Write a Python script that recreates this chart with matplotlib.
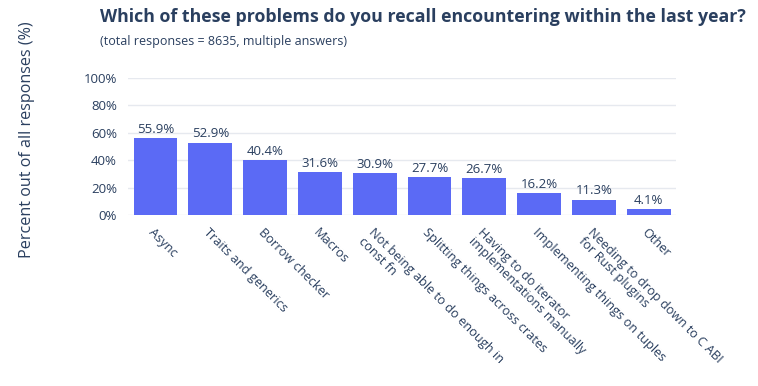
import matplotlib.pyplot as plt
import numpy as np

categories = [
    "Async",
    "Traits and generics",
    "Borrow checker",
    "Macros",
    "Not being able to do enough in\nconst fn",
    "Splitting things across crates",
    "Having to do iterator\nimplementations manually",
    "Implementing things on tuples",
    "Needing to drop down to C ABI\nfor Rust plugins",
    "Other",
]
values = [55.9, 52.9, 40.4, 31.6, 30.9, 27.7, 26.7, 16.2, 11.3, 4.1]
yticks = [0, 20, 40, 60, 80, 100]

text_color = "#2a3f5f"
bar_color = "#5b6af5"

plt.rcParams['font.family'] = ['Open Sans', 'DejaVu Sans']

fig = plt.figure(figsize=(7.58, 3.86), dpi=100)
ax = fig.add_axes([0.169, 0.443, 0.723, 0.355])

x = np.arange(len(categories))
ax.bar(x, values, width=0.8, color=bar_color, zorder=2)
for xi, v in zip(x, values):
    ax.text(xi, v + 1.5, f"{v:.1f}%", ha='center', va='bottom',
            fontsize=9.5, color=text_color)

ax.set_xlim(-0.5, len(categories) - 0.5)
ax.set_ylim(0, 100)
ax.set_yticks(yticks)
ax.set_yticklabels([f"{t}%" for t in yticks], fontsize=9.5, color=text_color)
ax.set_xticks(x)
ax.set_xticklabels(categories, rotation=-45, ha='left', va='top',
                   rotation_mode='anchor', fontsize=9.2, color=text_color,
                   linespacing=1.0)
ax.tick_params(axis='both', length=0, pad=8)
ax.grid(axis='y', color='#e6e9ef', linewidth=1, zorder=0)
for s in ax.spines.values():
    s.set_visible(False)

fig.text(0.036, 0.637, "Percent out of all responses (%)", rotation=90,
         ha='center', va='center', fontsize=11.6, color=text_color)
fig.text(0.132, 0.955, "Which of these problems do you recall encountering within the last year?",
         ha='left', va='center', fontsize=12.8, fontweight='bold', color=text_color)
fig.text(0.132, 0.893, "(total responses = 8635, multiple answers)",
         ha='left', va='center', fontsize=9.0, color=text_color)

fig.savefig("out.png", dpi=100)
